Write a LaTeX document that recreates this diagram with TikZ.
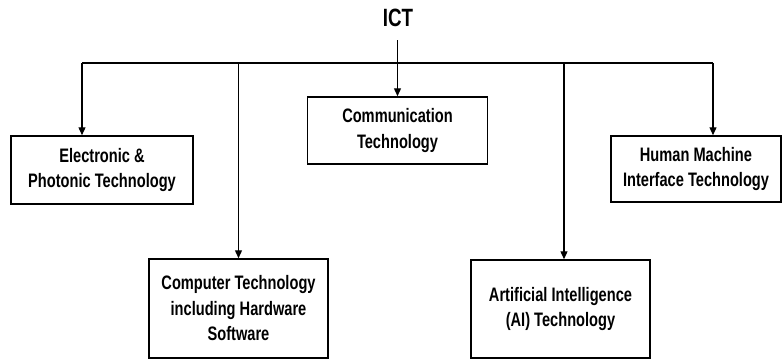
\documentclass[tikz,border=0pt]{standalone}
\usepackage{fontspec}
\setmainfont{Liberation Sans}[FakeStretch=0.75]
\usetikzlibrary{arrows.meta}
\begin{document}
\begin{tikzpicture}[x=1pt,y=-1pt,
  box/.style={draw, line width=1.5pt, align=center, inner sep=0pt,
    font=\fontsize{19.5}{25.5}\selectfont\bfseries},
  link/.style={line width=1.3pt},
  arr/.style={link, -{Triangle[length=8pt,width=7pt]}}]
\useasboundingbox (0,0) rectangle (784,359);

% root label
\node[font=\fontsize{25}{28}\selectfont\bfseries] (ict) at (398,18) {ICT};

% branch boxes
\node[box, minimum width=182pt, minimum height=68pt] (elec) at (102,170)
  {Electronic \&\\Photonic Technology};
\node[box, minimum width=180pt, minimum height=67pt] (comm) at (397.5,130.5)
  {Communication\\Technology};
\node[box, minimum width=170pt, minimum height=66pt] (hmi) at (696,169)
  {Human Machine\\Interface Technology};
\node[box, minimum width=179pt, minimum height=99pt] (comp) at (238.5,308.5)
  {Computer Technology\\including Hardware\\Software};
\node[box, minimum width=179pt, minimum height=98pt] (ai) at (560.5,309)
  {Artificial Intelligence\\(AI) Technology};

% bus line and connectors
\coordinate (top) at (397.5,40);
\coordinate (busL) at (82,63);
\coordinate (busR) at (713,63);
\draw[link] (busL) -- (busR);
\draw[arr] (top) -- (comm.north);
\draw[arr] (busL) -- (elec.north -| busL);
\draw[arr] (busR) -- (hmi.north -| busR);
\draw[arr] (comp.north |- busL) -- (comp.north);
\draw[arr] (564,63) -- (ai.north -| 564,0);
\end{tikzpicture}
\end{document}
